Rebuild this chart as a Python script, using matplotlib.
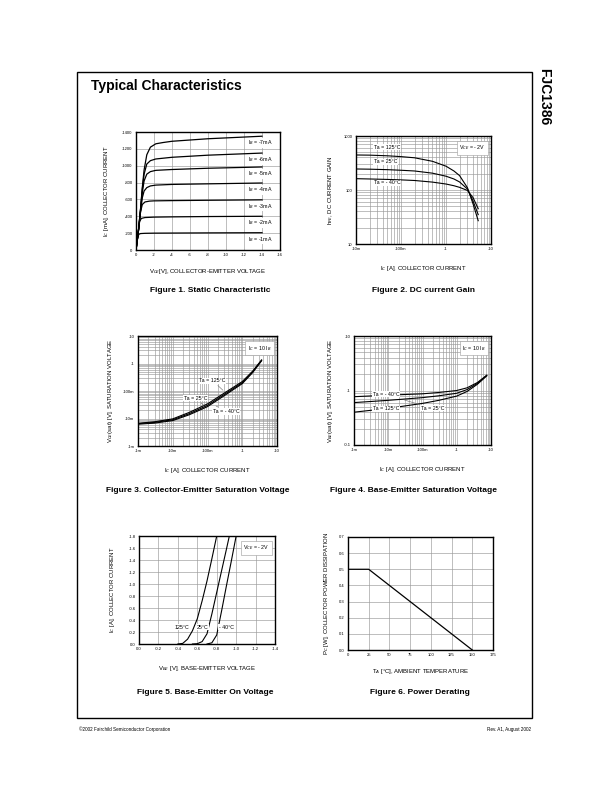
import matplotlib
matplotlib.use("Agg")
import matplotlib.pyplot as plt
import numpy as np
from matplotlib.patches import Rectangle

plt.rcParams['font.family'] = ['Liberation Sans', 'DejaVu Sans']

W, H = 612, 792

# ---- data ----
# Figure 1: static characteristic, |Vce| [V] vs |Ic| [mA] for each Ib
ib_labels = ["-1mA", "-2mA", "-3mA", "-4mA", "-5mA", "-6mA", "-7mA"]
vce1 = [
    [0, 0.15, 0.3, 0.5, 1, 2, 4, 8, 14],
    [0, 0.2, 0.4, 0.6, 1, 2, 4, 8, 14],
    [0, 0.3, 0.5, 0.7, 1.0, 1.5, 2, 4, 8, 14],
    [0, 0.3, 0.5, 0.7, 0.9, 1.2, 1.6, 2.2, 4, 8, 14],
    [0, 0.3, 0.5, 0.7, 0.9, 1.2, 1.6, 2.2, 4, 8, 14],
    [0, 0.3, 0.5, 0.7, 0.9, 1.2, 1.6, 2.2, 4, 8, 14],
    [0, 0.3, 0.5, 0.7, 0.9, 1.2, 1.6, 2.2, 3, 4, 8, 14],
]
ic1 = [
    [0, 120, 185, 195, 198, 200, 201, 203, 205],
    [0, 170, 340, 375, 385, 390, 393, 397, 400],
    [0, 250, 450, 540, 570, 580, 583, 586, 590, 595],
    [0, 250, 450, 620, 700, 740, 760, 770, 778, 785, 795],
    [0, 260, 470, 680, 820, 900, 930, 945, 955, 970, 985],
    [0, 260, 480, 720, 900, 1020, 1060, 1080, 1100, 1125, 1150],
    [0, 260, 480, 740, 950, 1130, 1220, 1260, 1275, 1290, 1320, 1350],
]

# Figure 2: DC current gain
ic2 = [0.01, 0.02, 0.05, 0.1, 0.2, 0.5, 1, 1.5, 2, 3, 4, 5.2]
hfe_125 = [445, 442, 430, 415, 395, 340, 276, 225, 185, 110, 55, 27]
hfe_25 = [245, 243, 238, 232, 225, 205, 180, 160, 141, 104, 62, 35]
hfe_m40 = [162, 160, 157, 154, 150, 140, 129, 120, 112, 98, 72, 45]

# Figure 3: collector-emitter saturation voltage
ic3 = [0.001, 0.003, 0.01, 0.03, 0.1, 0.3, 1, 2, 3.6]
vce_sat_25 = [0.0065, 0.0072, 0.009, 0.015, 0.030, 0.074, 0.20, 0.50, 1.30]
vce_sat_125 = [0.0067, 0.0076, 0.0097, 0.0167, 0.034, 0.083, 0.22, 0.53, 1.35]
vce_sat_m40 = [0.0062, 0.0068, 0.0084, 0.0137, 0.027, 0.067, 0.185, 0.47, 1.25]

# Figure 4: base-emitter saturation voltage
ic4 = [0.001, 0.01, 0.1, 0.3, 1, 2, 4, 7.5]
vbe_sat_m40 = [0.77, 0.82, 0.87, 0.92, 1.00, 1.12, 1.40, 1.90]
vbe_sat_25 = [0.60, 0.66, 0.74, 0.80, 0.89, 1.04, 1.35, 1.90]
vbe_sat_125 = [0.40, 0.47, 0.58, 0.66, 0.79, 0.96, 1.30, 1.85]

# Figure 5: base-emitter on voltage
vbe_125 = [0.40, 0.45, 0.50, 0.55, 0.60, 0.65, 0.70, 0.75, 0.80]
ic_125 = [0.0, 0.01, 0.08, 0.22, 0.42, 0.72, 1.05, 1.42, 1.80]
vbe_25 = [0.55, 0.60, 0.65, 0.70, 0.75, 0.80, 0.85, 0.90, 0.93]
ic_25 = [0.0, 0.005, 0.04, 0.17, 0.50, 0.86, 1.22, 1.58, 1.80]
vbe_m40 = [0.70, 0.75, 0.80, 0.85, 0.90, 0.95, 1.00]
ic_m40 = [0.0, 0.02, 0.15, 0.55, 0.97, 1.38, 1.80]

# Figure 6: power derating
ta = [0, 25, 150]
pc = [0.5, 0.5, 0.0]

# ---- layout helpers ----
fig = plt.figure(figsize=(W / 100, H / 100), dpi=100)


def ax_at(l, t, r, b):
    return fig.add_axes([l / W, 1 - b / H, (r - l) / W, (b - t) / H])


def px(x, y):
    return x / W, 1 - y / H


TICK = 3.0
LAB = 4.3
ANN = 3.8
GRID = dict(color='#999999', lw=0.45)


def style(ax):
    for s in ax.spines.values():
        s.set_linewidth(1.0)
    ax.tick_params(which='both', length=0, labelsize=TICK, pad=2.5)
    ax.set_axisbelow(True)


def boxed(ax, x, y, s, **kw):
    ax.text(x, y, s, fontsize=ANN, transform=ax.transAxes,
            bbox=dict(boxstyle='square,pad=0.5', fc='white', ec='#999999', lw=0.4), **kw)


def label(ax, x, y, s, **kw):
    ax.text(x, y, s, fontsize=ANN,
            bbox=dict(boxstyle='square,pad=0.1', fc='white', ec='none'), **kw)


# page frame, title, side name, footer
fig.patches.append(Rectangle(px(77, 718), (532 - 77) / W, (718 - 72) / H,
                             transform=fig.transFigure, fill=False, lw=1.0, ec='black'))
fig.text(*px(91, 86), "Typical Characteristics", fontsize=10, fontweight='bold', va='center')
fig.text(*px(544, 68), "FJC1386", fontsize=10, fontweight='bold', rotation=-90,
         ha='center', va='top')
fig.text(*px(79, 729), "\u00a92002 Fairchild Semiconductor Corporation", fontsize=3.3, va='center')
fig.text(*px(531, 729), "Rev. A1, August 2002", fontsize=3.3, va='center', ha='right')

# ---- Figure 1 ----
ax1 = ax_at(136, 132, 280, 250)
style(ax1)
for v, i, lab in zip(vce1, ic1, ib_labels):
    ax1.plot(v, i, color='black', lw=0.9)
    label(ax1, 12.5, i[-1] - 25, "I$_B$ = " + lab, va='top', ha='left')
ax1.set_xlim(0, 16)
ax1.set_ylim(0, 1400)
ax1.set_xticks(np.arange(0, 17, 2))
ax1.set_xticklabels(["0"] + ["-%d" % v for v in range(2, 17, 2)])
ax1.set_yticks(np.arange(0, 1401, 200))
ax1.set_yticklabels(["0"] + ["-%d" % v for v in range(200, 1401, 200)])
ax1.grid(True, **GRID)
ax1.set_xlabel("V$_{CE}$[V], COLLECTOR-EMITTER VOLTAGE", fontsize=LAB, labelpad=7)
ax1.set_ylabel("I$_C$ [mA], COLLECTOR CURRENT", fontsize=LAB, labelpad=8)

# ---- Figure 2 ----
ax2 = ax_at(356, 136, 491, 244)
style(ax2)
ax2.set_xscale('log')
ax2.set_yscale('log')
ax2.plot(ic2, hfe_125, color='black', lw=0.8)
ax2.plot(ic2, hfe_25, color='black', lw=0.8)
ax2.plot(ic2, hfe_m40, color='black', lw=0.8)
ax2.set_xlim(0.01, 10)
ax2.set_ylim(10, 1000)
ax2.set_xticks([0.01, 0.1, 1, 10])
ax2.set_xticklabels(["-10m", "-100m", "-1", "-10"])
ax2.set_yticks([10, 100, 1000])
ax2.set_yticklabels(["10", "100", "1000"])
ax2.grid(True, which='both', **GRID)
label(ax2, 0.025, 560, "Ta = 125\u00b0C", ha='left', va='bottom')
label(ax2, 0.025, 300, "Ta = 25\u00b0C", ha='left', va='bottom')
label(ax2, 0.025, 122, "Ta = - 40\u00b0C", ha='left', va='bottom')
boxed(ax2, 0.96, 0.93, "V$_{CE}$ = - 2V", ha='right', va='top')
ax2.set_xlabel("I$_C$ [A], COLLECTOR CURRENT", fontsize=LAB, labelpad=9)
ax2.set_ylabel("h$_{FE}$, DC CURRENT GAIN", fontsize=LAB, labelpad=6)

# ---- Figure 3 ----
ax3 = ax_at(138, 336, 277, 446)
style(ax3)
ax3.set_xscale('log')
ax3.set_yscale('log')
for v in (vce_sat_125, vce_sat_25, vce_sat_m40):
    ax3.plot(ic3, v, color='black', lw=0.8)
ax3.set_xlim(0.001, 10)
ax3.set_ylim(0.001, 10)
dec = [0.001, 0.01, 0.1, 1, 10]
dec_lab = ["-1m", "-10m", "-100m", "-1", "-10"]
ax3.set_xticks(dec)
ax3.set_xticklabels(dec_lab)
ax3.set_yticks(dec)
ax3.set_yticklabels(dec_lab)
ax3.grid(True, which='both', **GRID)
ax3.annotate("Ta = 125\u00b0C", xy=(0.32, 0.09), xytext=(0.14, 0.24), fontsize=ANN,
             ha='center', va='center', arrowprops=dict(arrowstyle='-', lw=0.4, color='#666666'),
             bbox=dict(boxstyle='square,pad=0.1', fc='white', ec='none'))
ax3.annotate("Ta = 25\u00b0C", xy=(0.09, 0.026), xytext=(0.045, 0.055), fontsize=ANN,
             ha='center', va='center', arrowprops=dict(arrowstyle='-', lw=0.4, color='#666666'),
             bbox=dict(boxstyle='square,pad=0.1', fc='white', ec='none'))
ax3.annotate("Ta = - 40\u00b0C", xy=(0.15, 0.032), xytext=(0.34, 0.018), fontsize=ANN,
             ha='center', va='center', arrowprops=dict(arrowstyle='-', lw=0.4, color='#666666'),
             bbox=dict(boxstyle='square,pad=0.1', fc='white', ec='none'))
boxed(ax3, 0.96, 0.93, "I$_C$ = 10 I$_B$", ha='right', va='top')
ax3.set_xlabel("I$_C$ [A], COLLECTOR CURRENT", fontsize=LAB, labelpad=9)
ax3.set_ylabel("V$_{CE}$(sat) [V], SATURATION VOLTAGE", fontsize=LAB, labelpad=6)

# ---- Figure 4 ----
ax4 = ax_at(354, 336, 491, 445)
style(ax4)
ax4.set_xscale('log')
ax4.set_yscale('log')
for v in (vbe_sat_m40, vbe_sat_25, vbe_sat_125):
    ax4.plot(ic4, v, color='black', lw=0.8)
ax4.set_xlim(0.001, 10)
ax4.set_ylim(0.1, 10)
ax4.set_xticks(dec)
ax4.set_xticklabels(dec_lab)
ax4.set_yticks([0.1, 1, 10])
ax4.set_yticklabels(["-0.1", "-1", "-10"])
ax4.grid(True, which='both', **GRID)
label(ax4, 0.0035, 0.86, "Ta = - 40\u00b0C", ha='left', va='center')
label(ax4, 0.0035, 0.46, "Ta = 125\u00b0C", ha='left', va='center')
ax4.annotate("Ta = 25\u00b0C", xy=(0.025, 0.69), xytext=(0.09, 0.47), fontsize=ANN,
             ha='left', va='center', arrowprops=dict(arrowstyle='-', lw=0.4, color='#666666'),
             bbox=dict(boxstyle='square,pad=0.1', fc='white', ec='none'))
boxed(ax4, 0.96, 0.93, "I$_C$ = 10 I$_B$", ha='right', va='top')
ax4.set_xlabel("I$_C$ [A], COLLECTOR CURRENT", fontsize=LAB, labelpad=9)
ax4.set_ylabel("V$_{BE}$(sat) [V], SATURATION VOLTAGE", fontsize=LAB, labelpad=6)

# ---- Figure 5 ----
ax5 = ax_at(139, 536, 275, 644)
style(ax5)
ax5.plot(vbe_125, ic_125, color='black', lw=0.8)
ax5.plot(vbe_25, ic_25, color='black', lw=0.8)
ax5.plot(vbe_m40, ic_m40, color='black', lw=0.8)
ax5.set_xlim(0, 1.4)
ax5.set_ylim(0, 1.8)
xt5 = np.round(np.arange(0, 1.41, 0.2), 1)
yt5 = np.round(np.arange(0, 1.81, 0.2), 1)
ax5.set_xticks(xt5)
ax5.set_xticklabels(["0.0"] + ["-%.1f" % v for v in xt5[1:]])
ax5.set_yticks(yt5)
ax5.set_yticklabels(["0.0"] + ["-%.1f" % v for v in yt5[1:]])
ax5.grid(True, **GRID)
label(ax5, 0.445, 0.28, "125\u00b0C", ha='center', va='center')
label(ax5, 0.65, 0.28, "25\u00b0C", ha='center', va='center')
label(ax5, 0.90, 0.28, "- 40\u00b0C", ha='center', va='center')
boxed(ax5, 0.96, 0.93, "V$_{CE}$ = - 2V", ha='right', va='top')
ax5.set_xlabel("V$_{BE}$ [V], BASE-EMITTER VOLTAGE", fontsize=LAB, labelpad=9)
ax5.set_ylabel("I$_C$ [A], COLLECTOR CURRENT", fontsize=LAB, labelpad=8)

# ---- Figure 6 ----
ax6 = ax_at(348, 537, 493, 650)
style(ax6)
ax6.plot(ta, pc, color='black', lw=0.9)
ax6.set_xlim(0, 175)
ax6.set_ylim(0, 0.7)
ax6.set_xticks(np.arange(0, 176, 25))
ax6.set_yticks(np.round(np.arange(0, 0.71, 0.1), 1))
ax6.set_yticklabels(["%.1f" % v for v in np.arange(0, 0.71, 0.1)])
ax6.grid(True, **GRID)
ax6.set_xlabel("T$_A$ [\u00b0C], AMBIENT TEMPERATURE", fontsize=LAB, labelpad=7)
ax6.set_ylabel("P$_C$ [W], COLLECTOR POWER DISSIPATION", fontsize=LAB, labelpad=6)

# captions
caps = [(210, 291, "Figure 1. Static Characteristic"),
        (423, 291, "Figure 2. DC current Gain"),
        (198, 491, "Figure 3. Collector-Emitter Saturation Voltage"),
        (413, 491, "Figure 4. Base-Emitter Saturation Voltage"),
        (205, 692, "Figure 5. Base-Emitter On Voltage"),
        (420, 692, "Figure 6. Power Derating")]
for x, y, s in caps:
    fig.text(*px(x, y), s, fontsize=6, fontweight='bold', ha='center', va='center')

fig.savefig("out.png", dpi=100)
